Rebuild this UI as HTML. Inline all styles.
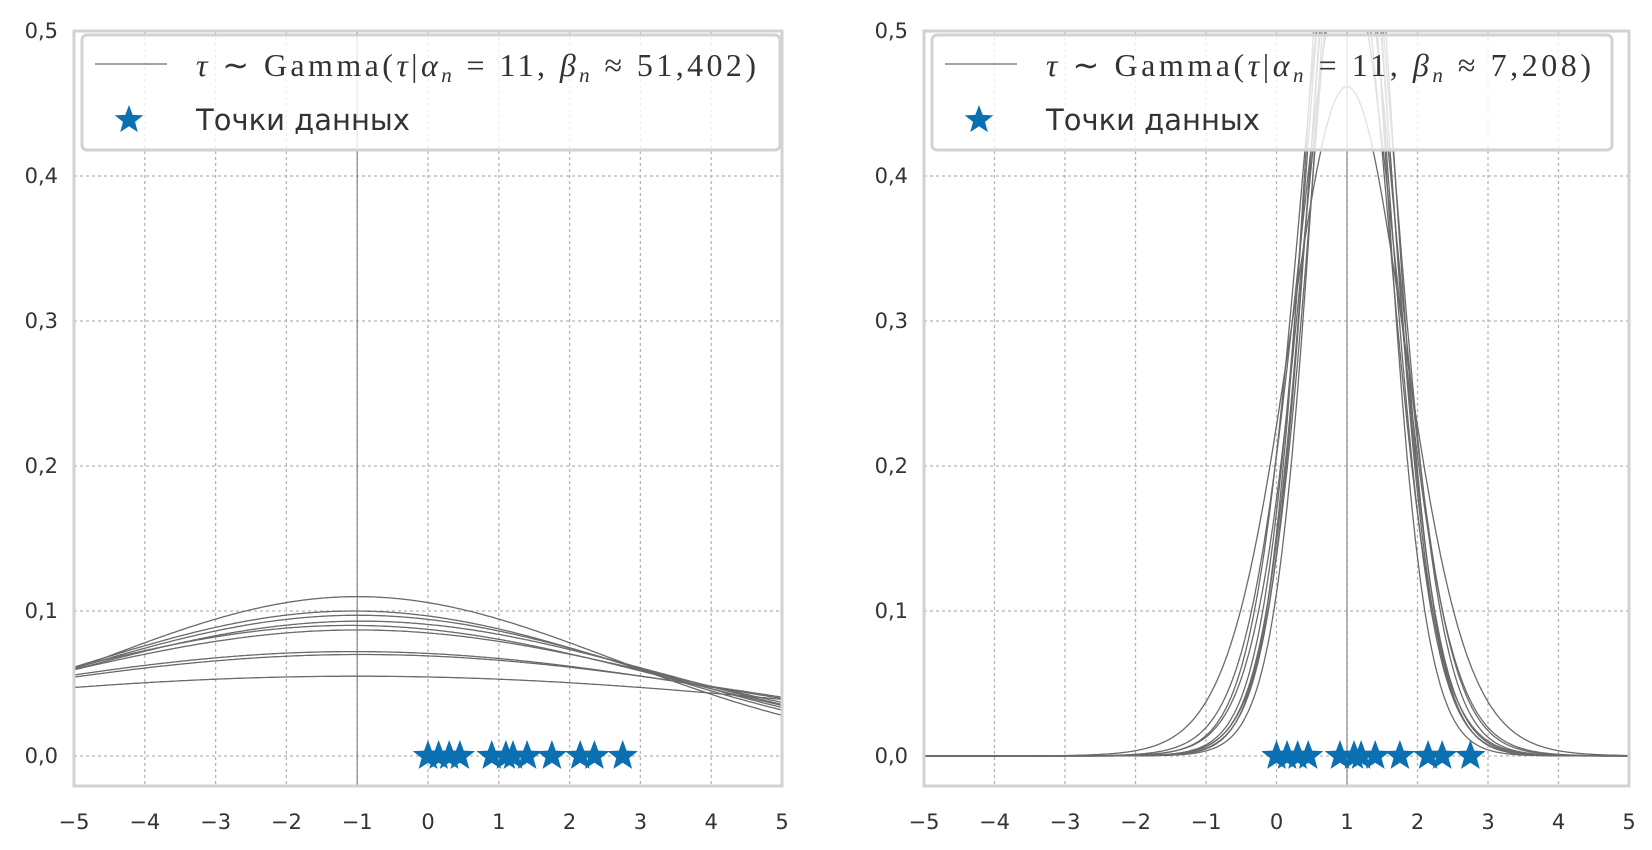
<!DOCTYPE html>
<html><head><meta charset="utf-8"><style>
body{margin:0;background:#fff;}
svg{display:block;}
text{font-family:"DejaVu Sans","Liberation Sans",sans-serif;fill:#333;}
</style></head><body>
<svg id="chart" width="1652" height="850" viewBox="0 0 1652 850" xmlns="http://www.w3.org/2000/svg"></svg>
<script>
const xTicks=[-5,-4,-3,-2,-1,0,1,2,3,4,5];
const yTicks=[0.0,0.1,0.2,0.3,0.4,0.5];
const yTickLabels=["0,0","0,1","0,2","0,3","0,4","0,5"];
const dataPoints=[0.0,0.15,0.3,0.45,0.9,1.1,1.2,1.4,1.75,2.15,2.35,2.75];
const leftMeans=[-1.0,-1.05,-1.0,-0.95,-1.1,-1.0,-1.05,-0.95,-1.0];
const leftSds=[3.63,3.99,4.11,4.29,4.43,4.59,5.54,5.70,7.25];
const rightMeans=[1.0,1.0,1.05,0.95,1.1,1.0,1.05,1.1,0.98,1.05];
const rightSds=[0.85,0.72,0.68,0.65,0.62,0.6,0.58,0.56,0.55,0.6];
const leftBeta="51,402)";
const rightBeta="7,208)";
const NS="http://www.w3.org/2000/svg";
const svg=document.getElementById('chart');
function mk(t,a,p){const e=document.createElementNS(NS,t);for(const k in a)e.setAttribute(k,a[k]);(p||svg).appendChild(e);return e;}
function starPath(cx,cy,r){let d="";for(let i=0;i<10;i++){const rr=i%2?r*0.42:r;const a=-Math.PI/2+i*Math.PI/5;d+=(i?"L":"M")+(cx+rr*Math.cos(a)).toFixed(1)+" "+(cy+rr*Math.sin(a)).toFixed(1);}return d+"Z";}
function normal(x,m,s){return Math.exp(-0.5*((x-m)/s)**2)/(s*Math.sqrt(2*Math.PI));}
function studentT(x,m,s){const nu=15,c=0.3925;const z=(x-m)/s;return c*Math.pow(1+z*z/nu,-(nu+1)/2)/s;}
function panel(x0,x1,means,sds,center,beta,name,pdf,boxW,textW){
  const yTop=31,yZero=756,yBot=786;
  const X=v=>x0+(v+5)/10*(x1-x0);
  const Y=v=>yZero-(v)*(yZero-yTop)/0.5;
  const g=mk('g',{});  
  const clipId=name+'-clip';
  const cp=mk('clipPath',{id:clipId},g); mk('rect',{x:x0,y:yTop,width:x1-x0,height:yBot-yTop},cp);
  xTicks.forEach(t=>{const l=mk('line',{x1:X(t),x2:X(t),y1:yTop,y2:yBot,stroke:'#b5b5b5','stroke-width':1.3,'stroke-dasharray':'3,3'},g);
    const tx=mk('text',{x:X(t),y:829,'font-size':21,'text-anchor':'middle'},g);tx.textContent=(t<0?'−':'')+Math.abs(t);});
  yTicks.forEach((t,i)=>{const l=mk('line',{x1:x0,x2:x1,y1:Y(t),y2:Y(t),stroke:'#b5b5b5','stroke-width':1.3,'stroke-dasharray':'3,3'},g);
    const tx=mk('text',{x:x0-16,y:Y(t)+7,'font-size':21,'text-anchor':'end'},g);tx.textContent=yTickLabels[i];});
  const cl=mk('line',{x1:X(center),x2:X(center),y1:yTop,y2:yBot,stroke:'#888','stroke-width':1.2},g);
  const cg=mk('g',{'clip-path':'url(#'+clipId+')'},g);
  means.forEach((m,i)=>{const s=sds[i];let d="";for(let k=0;k<=400;k++){const xv=-5+k*10/400;const yv=pdf(xv,m,s);d+=(k?"L":"M")+X(xv).toFixed(1)+" "+Y(yv).toFixed(1);}
    const p=mk('path',{d:d,fill:'none',stroke:'#6a6a6a','stroke-width':1.3},cg);});
  dataPoints.forEach(v=>{const p=mk('path',{d:starPath(X(v),Y(0),16),fill:'#0b70b2'},cg);});
  const fr=mk('rect',{x:x0,y:yTop,width:x1-x0,height:yBot-yTop,fill:'none',stroke:'#d2d2d2','stroke-width':3},g);
  const lg=mk('g',{},g);
  mk('rect',{x:x0+8,y:35,width:boxW,height:115,rx:5,fill:'#fff','fill-opacity':0.8,stroke:'#d2d2d2','stroke-width':3},lg);
  mk('line',{x1:x0+21,x2:x0+93,y1:64,y2:64,stroke:'#6a6a6a','stroke-width':1.3},lg);
  const t1=mk('text',{x:x0+122,y:76,'font-size':32,textLength:textW,lengthAdjust:'spacing',style:'font-family:"Liberation Serif",serif'},lg);
  t1.innerHTML='<tspan font-style="italic">τ</tspan> ∼ Gamma(<tspan font-style="italic">τ</tspan>|<tspan font-style="italic">α</tspan><tspan font-size="21" dy="6" font-style="italic">n</tspan><tspan dy="-6"> = 11, </tspan><tspan font-style="italic">β</tspan><tspan font-size="21" dy="6" font-style="italic">n</tspan><tspan dy="-6"> ≈ '+beta+'</tspan>';
  
  const ls=mk('path',{d:starPath(x0+55,120,15),fill:'#0b70b2'},lg);
  const t2=mk('text',{x:x0+122,y:130,'font-size':29},lg);t2.textContent='Точки данных';
}
panel(74,782,leftMeans,leftSds,-1,leftBeta,'left-panel',normal,698,560);
panel(924,1629,rightMeans,rightSds,1,rightBeta,'right-panel',studentT,680,545);
</script>
</body></html>
